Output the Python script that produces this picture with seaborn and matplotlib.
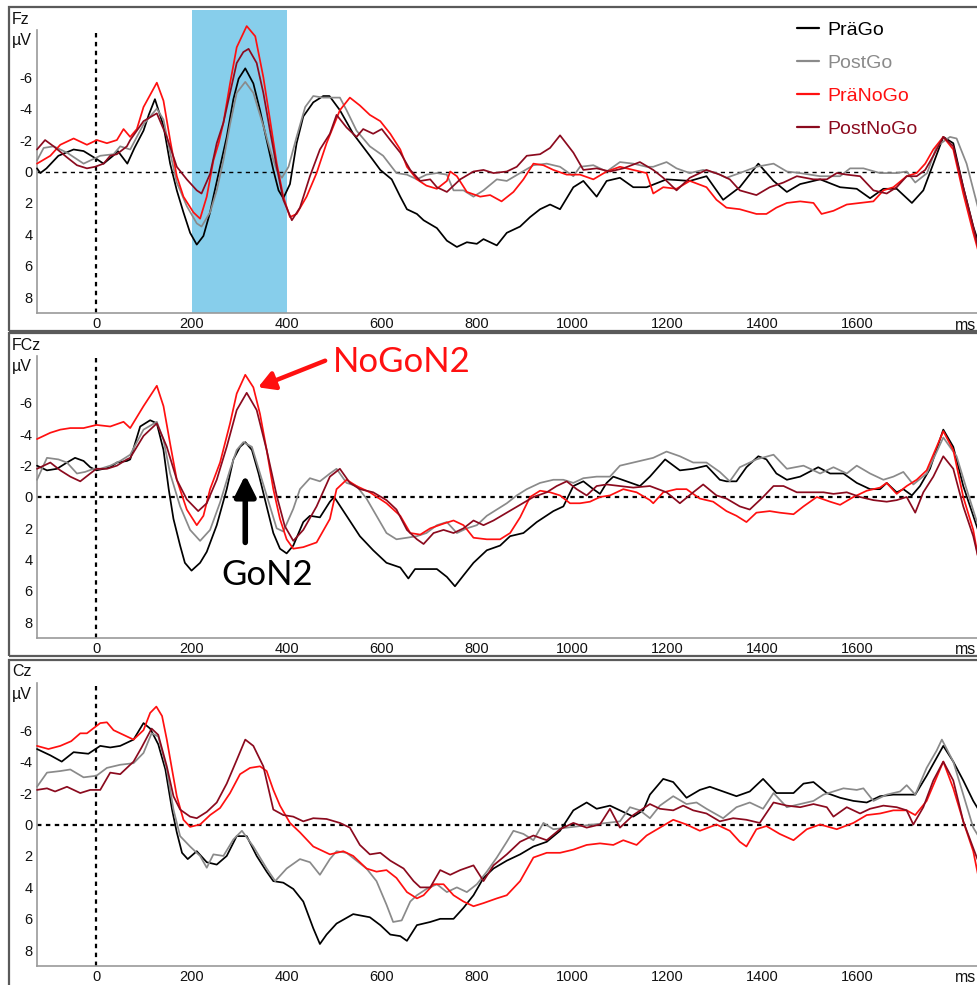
import matplotlib
matplotlib.use("Agg")
import matplotlib.pyplot as plt
import pandas as pd
import seaborn as sns
from matplotlib.patches import Rectangle
from matplotlib.lines import Line2D
from matplotlib.ticker import FixedLocator

conditions = ["PräGo", "PostGo", "PräNoGo", "PostNoGo"]
colors = ["#000000", "#8a8a8a", "#ff1010", "#8b0a1e"]
xticks = [0, 200, 400, 600, 800, 1000, 1200, 1400, 1600]
yticks = [-6, -4, -2, 0, 2, 4, 6, 8]

# ---- Fz (time ms, amplitude µV) ----
fz_prago = [(-125,-0.2),(-118,0.1),(-105,-0.2),(-80,-1.0),(-48,-1.4),(-27,-1.3),(0,-0.8),(15,-0.5),(35,-1.0),(45,-1.3),(65,-0.5),(80,-1.5),(99,-2.6),(110,-3.6),(123,-4.6),(141,-2.9),(155,-0.5),(169,1.2),(183,2.6),(197,3.9),(211,4.65),(225,4.1),(239,2.6),(246,1.6),(260,-0.3),(274,-2.2),(288,-4.6),(299,-5.9),(313,-6.56),(330,-5.6),(344,-3.9),(358,-2.0),(372,-0.1),(383,1.2),(393,1.7),(407,0.8),(421,-1.8),(435,-3.5),(456,-4.4),(477,-4.8),(490,-4.8),(512,-3.9),(540,-2.4),(575,-1.0),(597,-0.1),(621,0.5),(639,1.6),(653,2.4),(674,2.7),(688,3.1),(716,3.6),(737,4.4),(758,4.8),(779,4.5),(800,4.6),(814,4.3),(842,4.7),(863,3.9),(891,3.5),(912,2.9),(933,2.4),(954,2.1),(975,2.4),(1003,1.0),(1024,0.6),(1052,1.6),(1073,0.6),(1101,0.4),(1129,1.0),(1157,1.0),(1199,0.5),(1248,0.6),(1283,0.3),(1318,1.8),(1353,1.0),(1392,-0.5),(1424,0.6),(1452,1.3),(1480,0.8),(1522,0.5),(1564,1.0),(1599,1.1),(1627,1.7),(1655,1.1),(1683,1.1),(1715,2.0),(1739,1.2),(1760,-0.5),(1781,-2.2),(1802,-1.8),(1823,1.0),(1844,3.5),(1856,4.6)]
fz_postgo = [(-125,-0.7),(-111,-1.5),(-90,-1.6),(-62,-1.2),(-27,-0.5),(8,-1.0),(36,-1.1),(50,-1.6),(71,-1.4),(78,-1.8),(99,-3.0),(127,-4.0),(141,-3.3),(155,-1.2),(169,0.7),(190,2.2),(211,3.3),(221,3.5),(239,2.6),(253,1.2),(267,-0.7),(281,-3.0),(295,-5.0),(313,-5.7),(330,-5.0),(351,-2.9),(365,-1.4),(379,-0.1),(390,0.4),(404,-0.3),(421,-2.2),(439,-4.1),(456,-4.8),(477,-4.7),(491,-4.7),(512,-4.7),(526,-3.9),(547,-2.6),(575,-1.6),(603,-1.0),(631,0.1),(653,0.2),(674,0.5),(694,0.2),(716,0.1),(737,0.2),(751,1.2),(772,1.2),(793,1.6),(814,1.2),(842,0.5),(863,0.6),(891,0.1),(919,-0.4),(947,-0.5),(975,-0.3),(1003,0.3),(1017,-0.3),(1045,-0.4),(1073,0.0),(1101,-0.6),(1129,-0.5),(1157,-0.3),(1171,-0.3),(1199,-0.6),(1220,-0.2),(1248,0.1),(1276,-0.1),(1304,0.1),(1325,0.4),(1353,0.1),(1388,-0.3),(1424,-0.5),(1452,0.0),(1480,0.1),(1522,0.3),(1564,0.3),(1585,-0.2),(1613,-0.2),(1648,0.1),(1683,0.1),(1704,0.0),(1722,0.7),(1747,0.1),(1767,-1.6),(1795,-2.2),(1809,-2.1),(1830,-0.5),(1854,2.3)]
fz_pranogo = [(-125,-0.5),(-97,-1.0),(-76,-1.7),(-48,-2.1),(-20,-1.7),(1,-2.0),(22,-1.8),(43,-2.0),(57,-2.7),(71,-2.2),(85,-2.7),(99,-4.1),(127,-5.65),(141,-4.5),(155,-2.0),(169,0.3),(183,1.6),(204,2.6),(218,3.0),(232,1.6),(246,-0.7),(257,-1.8),(267,-3.1),(281,-5.6),(295,-7.9),(316,-9.25),(334,-8.6),(351,-6.0),(365,-3.3),(379,-0.55),(393,1.6),(407,2.9),(421,2.7),(442,1.6),(463,0.1),(484,-1.8),(512,-3.9),(533,-4.7),(554,-4.2),(575,-3.6),(597,-3.2),(618,-2.4),(639,-1.4),(653,-0.3),(674,0.5),(694,0.9),(716,1.1),(737,0.6),(744,0.0),(758,0.3),(779,1.3),(807,1.6),(828,1.5),(852,1.9),(877,1.3),(898,0.5),(919,-0.5),(940,-0.4),(961,-0.1),(989,0.2),(1017,0.2),(1045,0.5),(1073,0.0),(1101,-0.3),(1129,-0.1),(1157,0.1),(1171,1.4),(1192,1.0),(1220,1.1),(1248,0.6),(1283,1.0),(1304,1.8),(1325,2.3),(1353,2.4),(1388,2.7),(1409,2.7),(1430,2.3),(1452,2.0),(1480,1.9),(1508,2.0),(1525,2.7),(1550,2.5),(1578,2.1),(1606,2.0),(1634,1.9),(1655,1.2),(1676,1.0),(1704,0.3),(1725,0.1),(1743,-0.5),(1760,-1.4),(1781,-2.2),(1802,-1.4),(1823,1.4),(1844,3.9),(1854,5.0)]
fz_postnogo = [(-125,-1.4),(-108,-2.0),(-90,-1.6),(-62,-0.9),(-41,-0.4),(-20,-0.2),(-3,-0.3),(15,-0.5),(29,-1.0),(43,-1.1),(64,-1.6),(71,-2.0),(99,-3.2),(127,-3.7),(148,-2.2),(169,-0.3),(190,0.5),(211,1.2),(221,1.4),(239,0.15),(253,-1.8),(267,-3.1),(281,-5.0),(295,-6.9),(309,-7.6),(320,-7.8),(337,-6.9),(351,-5.0),(365,-2.6),(379,-0.3),(393,1.8),(411,3.1),(428,2.3),(449,0.3),(470,-1.4),(491,-2.4),(505,-3.6),(526,-2.8),(547,-2.2),(561,-2.7),(582,-2.4),(600,-2.7),(618,-2.0),(639,-1.2),(660,-0.1),(681,0.6),(702,0.5),(716,1.0),(737,1.3),(765,0.5),(793,0.0),(814,-0.1),(835,0.1),(863,0.0),(884,-0.3),(905,-1.0),(933,-1.1),(954,-1.5),(975,-2.3),(1003,-1.2),(1024,-0.1),(1052,-0.2),(1080,0.0),(1108,-0.2),(1143,-0.6),(1171,-0.1),(1192,0.4),(1220,1.2),(1248,0.4),(1283,-0.1),(1311,0.2),(1332,0.5),(1353,1.2),(1388,1.5),(1416,1.0),(1445,0.7),(1473,0.3),(1508,0.5),(1536,0.5),(1557,0.1),(1578,0.2),(1606,0.3),(1634,1.2),(1662,1.4),(1683,1.0),(1704,0.3),(1725,0.3),(1743,-0.1),(1760,-1.0),(1781,-2.2),(1802,-1.6),(1823,1.0),(1844,3.5),(1854,4.8)]

# ---- FCz ----
fcz_prago = [(-125,-2.0),(-104,-1.7),(-83,-1.8),(-62,-2.2),(-45,-2.5),(-27,-2.3),(-13,-1.9),(0,-1.7),(15,-1.8),(29,-1.9),(43,-2.2),(64,-2.3),(71,-2.4),(92,-4.5),(113,-4.9),(127,-4.7),(141,-3.0),(152,-0.5),(162,1.4),(176,3.1),(186,4.2),(200,4.7),(218,4.2),(232,3.5),(253,1.8),(274,-0.5),(288,-2.4),(302,-3.2),(313,-3.5),(327,-3.0),(341,-1.5),(358,0.6),(372,2.3),(386,3.3),(400,3.6),(414,3.1),(435,1.6),(449,1.2),(470,1.3),(491,0.3),(500,0.0),(526,1.2),(554,2.5),(582,3.4),(610,4.2),(639,4.5),(656,5.2),(670,4.6),(694,4.6),(716,4.6),(737,5.1),(754,5.7),(772,5.0),(793,4.2),(821,3.4),(849,3.1),(870,2.5),(898,2.3),(926,1.6),(961,0.9),(982,0.6),(1003,-0.7),(1024,-1.0),(1045,-0.5),(1059,-0.2),(1073,-0.9),(1087,-1.3),(1115,-1.0),(1143,-0.7),(1164,-1.3),(1196,-2.4),(1227,-1.7),(1255,-1.8),(1283,-2.0),(1311,-1.1),(1325,-1.0),(1346,-1.0),(1367,-1.9),(1392,-2.6),(1409,-2.4),(1430,-1.5),(1452,-1.1),(1480,-1.3),(1518,-1.9),(1543,-1.5),(1571,-1.5),(1599,-0.9),(1627,-0.5),(1648,-0.5),(1662,-0.9),(1683,-0.3),(1697,-0.5),(1715,-0.1),(1732,-0.7),(1753,-1.8),(1781,-4.3),(1802,-3.2),(1823,-0.7),(1844,1.2),(1854,2.1)]
fcz_postgo = [(-125,-1.1),(-104,-2.5),(-80,-2.4),(-62,-2.2),(-41,-1.5),(-24,-1.6),(-6,-1.8),(8,-1.8),(29,-2.0),(50,-2.3),(71,-2.7),(99,-4.3),(127,-4.8),(141,-3.65),(155,-1.5),(176,0.6),(197,2.1),(218,2.8),(239,2.1),(260,0.35),(281,-1.75),(295,-3.0),(309,-3.5),(327,-3.2),(344,-1.5),(365,0.6),(379,2.0),(393,2.2),(414,0.75),(428,-0.5),(449,-1.2),(470,-1.0),(491,-1.5),(505,-1.8),(526,-0.9),(547,-0.7),(568,0.1),(589,1.2),(610,2.3),(631,2.7),(653,2.6),(674,2.5),(694,2.3),(716,1.8),(737,1.6),(758,2.3),(779,2.0),(800,1.8),(821,1.2),(842,0.8),(863,0.4),(884,-0.1),(905,-0.5),(933,-0.9),(961,-1.1),(982,-1.1),(1003,-0.9),(1024,-1.2),(1052,-1.3),(1080,-1.3),(1101,-2.0),(1129,-2.2),(1157,-2.4),(1171,-2.5),(1199,-2.9),(1227,-2.6),(1255,-2.2),(1283,-2.2),(1311,-1.6),(1332,-1.0),(1353,-1.9),(1388,-2.4),(1424,-2.7),(1452,-1.8),(1487,-2.0),(1522,-1.5),(1550,-1.9),(1578,-1.5),(1599,-2.0),(1627,-1.5),(1655,-1.1),(1676,-1.3),(1697,-1.6),(1718,-0.8),(1746,-1.5),(1781,-3.8),(1809,-2.6),(1830,-0.5),(1854,1.8)]
fcz_pranogo = [(-125,-3.7),(-97,-4.1),(-76,-4.3),(-55,-4.4),(-27,-4.4),(0,-4.6),(29,-4.5),(57,-4.8),(71,-4.4),(99,-5.8),(127,-7.1),(141,-5.8),(155,-3.4),(169,-1.1),(190,0.8),(211,1.8),(225,1.2),(239,-0.5),(260,-2.2),(281,-4.7),(295,-6.6),(313,-7.8),(330,-7.0),(344,-5.3),(358,-3.0),(372,-0.5),(386,1.4),(400,2.7),(414,3.3),(435,3.2),(463,2.9),(491,1.4),(505,-0.5),(526,-1.1),(547,-0.7),(575,-0.3),(610,0.4),(639,1.2),(660,2.3),(681,2.4),(702,2.0),(730,1.7),(751,1.5),(772,1.8),(793,2.6),(821,2.7),(849,2.7),(870,2.3),(891,1.3),(912,0.0),(933,-0.4),(954,-0.3),(975,-0.1),(996,0.4),(1017,0.4),(1038,0.3),(1059,0.0),(1080,-0.1),(1108,-0.5),(1136,-0.3),(1164,0.2),(1171,0.4),(1192,-0.3),(1220,-0.5),(1241,-0.5),(1269,0.1),(1297,0.3),(1325,0.9),(1346,1.2),(1367,1.6),(1388,1.0),(1416,0.9),(1437,1.0),(1466,1.1),(1487,0.6),(1515,0.0),(1543,0.3),(1564,0.5),(1592,0.0),(1620,-0.4),(1648,-0.6),(1662,-0.9),(1683,-0.2),(1704,-0.7),(1725,-1.1),(1746,-1.7),(1781,-4.2),(1802,-3.0),(1823,0.0),(1844,2.1),(1854,3.8)]
fcz_postnogo = [(-125,-1.8),(-97,-2.2),(-76,-1.7),(-55,-1.3),(-34,-1.0),(-13,-1.5),(0,-1.8),(22,-1.8),(43,-2.0),(64,-2.4),(71,-2.5),(99,-3.9),(127,-4.7),(148,-3.2),(169,-1.1),(190,0.15),(214,0.9),(232,0.4),(253,-1.1),(274,-3.2),(295,-5.55),(316,-6.65),(337,-5.55),(358,-3.0),(379,-0.1),(396,1.85),(414,2.8),(435,2.1),(463,0.6),(491,-1.3),(512,-1.8),(533,-0.9),(554,-0.5),(582,-0.3),(610,0.2),(631,0.8),(653,2.1),(674,2.7),(688,3.0),(709,2.3),(730,2.1),(751,2.3),(772,2.0),(793,1.5),(814,1.8),(835,1.5),(863,1.0),(891,0.5),(919,0.0),(947,-0.3),(968,-0.7),(989,-1.0),(1010,-0.5),(1031,-0.1),(1052,-0.7),(1073,-0.8),(1101,-0.7),(1129,-0.6),(1164,-0.7),(1199,-0.3),(1227,0.4),(1255,-0.3),(1276,-0.8),(1304,-0.1),(1325,0.1),(1353,0.6),(1374,0.8),(1402,0.0),(1424,-0.7),(1445,-0.7),(1473,-0.3),(1501,-0.3),(1529,-0.3),(1550,-0.2),(1578,-0.3),(1606,0.0),(1634,0.2),(1662,0.3),(1683,0.2),(1704,0.0),(1722,1.0),(1739,-0.3),(1760,-1.3),(1781,-2.6),(1802,-1.8),(1823,0.6),(1844,2.5),(1854,3.8)]

# ---- Cz ----
cz_prago = [(-125,-4.8),(-97,-4.4),(-73,-4.0),(-48,-4.6),(-17,-4.5),(8,-5.0),(29,-4.9),(50,-5.0),(78,-5.4),(99,-6.45),(113,-6.1),(130,-5.1),(145,-3.5),(159,-0.95),(169,0.5),(180,1.8),(192,2.2),(211,1.7),(232,2.4),(253,2.55),(274,2.0),(295,0.74),(316,0.74),(337,2.0),(358,3.0),(372,3.6),(393,3.7),(414,4.1),(435,4.9),(456,6.6),(470,7.6),(484,7.0),(505,6.3),(540,5.7),(575,5.9),(597,6.4),(618,7.0),(639,7.1),(653,7.4),(674,6.4),(702,6.2),(723,6.0),(751,6.0),(772,5.3),(793,4.5),(814,3.4),(835,2.8),(863,2.3),(891,1.9),(919,1.4),(947,1.1),(975,0.4),(1003,-0.9),(1031,-1.4),(1052,-1.0),(1080,-1.2),(1101,-0.9),(1129,-0.5),(1150,-0.9),(1164,-1.9),(1192,-2.9),(1213,-2.7),(1241,-1.7),(1269,-2.2),(1290,-2.4),(1318,-2.1),(1346,-1.8),(1374,-2.1),(1402,-2.9),(1430,-2.0),(1466,-2.0),(1487,-2.6),(1508,-2.7),(1536,-2.0),(1564,-1.7),(1592,-1.5),(1620,-1.4),(1648,-1.8),(1676,-1.9),(1704,-1.9),(1722,-1.9),(1746,-3.1),(1781,-5.0),(1802,-4.0),(1823,-2.8),(1844,-1.5),(1854,-1.0)]
cz_postgo = [(-125,-2.4),(-104,-3.3),(-76,-3.4),(-55,-3.5),(-27,-3.0),(0,-3.1),(22,-3.6),(50,-3.8),(78,-3.9),(99,-4.55),(116,-5.8),(130,-5.6),(148,-3.5),(162,-0.95),(176,0.74),(197,1.4),(218,2.0),(232,2.75),(246,1.9),(267,2.0),(288,0.95),(306,0.4),(330,1.4),(358,2.8),(376,3.6),(400,2.8),(428,2.2),(449,2.4),(470,3.2),(491,2.2),(505,1.7),(526,1.8),(547,2.3),(568,2.8),(589,3.6),(610,5.1),(624,6.2),(642,6.1),(660,4.9),(674,4.5),(694,4.1),(716,3.8),(737,4.3),(758,4.0),(779,4.3),(800,3.8),(821,3.0),(842,2.1),(863,1.1),(877,0.4),(898,0.6),(919,1.0),(940,-0.1),(961,0.3),(989,0.2),(1017,0.1),(1045,0.0),(1073,-0.1),(1101,-0.2),(1122,-1.1),(1143,-0.9),(1164,-0.4),(1185,-1.2),(1213,-1.8),(1241,-1.3),(1262,-1.4),(1283,-1.0),(1318,-0.4),(1346,-1.1),(1374,-1.4),(1402,-1.0),(1424,-2.0),(1452,-1.1),(1480,-1.3),(1508,-1.5),(1529,-1.9),(1550,-2.1),(1571,-2.3),(1599,-2.2),(1613,-2.3),(1634,-1.5),(1662,-1.9),(1690,-2.1),(1704,-2.5),(1722,-1.9),(1746,-3.6),(1767,-4.7),(1778,-5.4),(1802,-4.0),(1823,-1.9),(1844,0.2),(1854,0.7)]
cz_pranogo = [(-125,-5.0),(-101,-4.8),(-76,-5.0),(-53,-5.3),(-34,-5.8),(-20,-5.8),(8,-6.45),(22,-6.5),(36,-6.0),(57,-5.7),(78,-5.4),(99,-6.0),(113,-7.1),(126,-7.5),(138,-6.9),(148,-5.4),(159,-3.5),(169,-1.8),(183,-0.3),(197,0.15),(218,0.0),(239,-0.6),(260,-1.05),(281,-2.0),(302,-3.2),(323,-3.6),(344,-3.7),(358,-3.4),(372,-2.2),(386,-1.2),(407,-0.1),(428,0.5),(456,1.4),(491,1.9),(519,1.7),(540,2.0),(568,2.8),(589,3.0),(610,2.9),(631,3.4),(653,4.3),(674,4.7),(688,4.5),(709,3.8),(730,3.8),(751,4.5),(772,4.9),(793,5.2),(814,5.0),(842,4.7),(863,4.5),(891,3.6),(919,2.1),(947,1.8),(975,1.8),(1003,1.6),(1031,1.3),(1059,1.2),(1087,1.3),(1108,1.0),(1136,1.3),(1157,0.7),(1185,0.2),(1213,-0.3),(1241,0.0),(1269,0.4),(1304,0.0),(1332,0.4),(1353,1.1),(1367,1.4),(1388,0.3),(1409,0.1),(1437,0.6),(1466,1.0),(1494,0.3),(1522,0.0),(1557,0.3),(1592,-0.1),(1620,-0.6),(1648,-0.7),(1676,-0.9),(1704,-0.9),(1722,-0.6),(1746,-1.5),(1767,-3.0),(1781,-4.0),(1802,-2.3),(1823,-0.2),(1844,1.7),(1854,3.2)]
cz_postnogo = [(-125,-2.2),(-104,-2.3),(-87,-2.1),(-62,-2.4),(-34,-2.0),(-13,-2.2),(8,-2.2),(29,-3.3),(50,-3.2),(78,-4.0),(95,-4.9),(116,-6.1),(130,-5.7),(148,-3.7),(162,-1.8),(176,-0.95),(197,-0.5),(211,-0.4),(232,-0.8),(253,-1.4),(274,-2.6),(295,-4.1),(313,-5.4),(330,-5.0),(351,-3.7),(372,-0.95),(393,-0.6),(414,-0.5),(435,-0.2),(456,-0.4),(484,-0.35),(512,-0.1),(533,0.2),(554,1.3),(575,1.9),(597,1.8),(618,2.3),(646,2.8),(667,3.6),(681,4.0),(702,4.0),(723,2.9),(744,3.2),(765,2.9),(793,2.6),(814,3.6),(835,2.6),(863,1.9),(891,1.1),(919,0.7),(947,1.0),(975,0.3),(1003,-0.1),(1031,0.2),(1059,0.0),(1080,-1.0),(1101,0.2),(1129,-0.6),(1164,-1.3),(1185,-1.0),(1213,-0.9),(1234,-1.2),(1255,-0.9),(1283,-0.7),(1311,-0.2),(1339,-0.4),(1367,-0.3),(1395,-0.1),(1424,-1.4),(1452,-1.2),(1480,-1.1),(1508,-1.3),(1536,-1.1),(1550,-0.5),(1578,-1.1),(1606,-0.7),(1627,-1.0),(1655,-1.2),(1683,-1.1),(1704,-0.9),(1718,0.0),(1739,-1.1),(1760,-2.8),(1781,-4.0),(1802,-2.8),(1823,-0.2),(1844,1.5),(1854,2.3)]

panels = [
    ("Fz", [fz_prago, fz_postgo, fz_pranogo, fz_postnogo]),
    ("FCz", [fcz_prago, fcz_postgo, fcz_pranogo, fcz_postnogo]),
    ("Cz", [cz_prago, cz_postgo, cz_pranogo, cz_postnogo]),
]

sns.set_style("white")
plt.rcParams["font.family"] = ["Liberation Sans", "DejaVu Sans"]
plt.rcParams["axes.unicode_minus"] = False

W, H = 978, 985
fig = plt.figure(figsize=(W / 100, H / 100), dpi=100)


def fx(px):
    return px / W


def fy(py):
    return 1 - py / H


# panel boxes (top px, bottom px) and axes boxes (top px, bottom px)
frames = [(7, 331), (333, 656), (660, 992)]
axboxes = [(30, 313), (356, 638), (683, 966)]
AX_LEFT = 37
spine_col = "#9a9a9a"

for (ftop, fbot) in frames:
    fig.add_artist(Rectangle((fx(9), fy(fbot)), fx(995) - fx(9), fy(ftop) - fy(fbot),
                             transform=fig.transFigure, fill=False,
                             edgecolor="#5a5a5a", lw=1.6, clip_on=False))

axes = []
for i, ((name, series), (atop, abot), (ftop, fbot)) in enumerate(zip(panels, axboxes, frames)):
    ax = fig.add_axes([fx(AX_LEFT), fy(abot), 1 - fx(AX_LEFT), (abot - atop) / H])
    axes.append(ax)
    ax.set_facecolor("none")
    rows = []
    for cond, pts in zip(conditions, series):
        for t, v in pts:
            rows.append({"t": t, "v": v, "cond": cond})
    df = pd.DataFrame(rows)

    if i == 0:
        ax.axvspan(200, 400, ymin=0, ymax=(abot - 10) / (abot - atop),
                   color="#87ceeb", lw=0, zorder=0.5, clip_on=False)

    ax.axhline(0, color="black", lw=1.0 if i == 0 else 1.6,
               ls=(0, (3, 3)) if i == 0 else (0, (2, 2)), zorder=1)
    ax.axvline(0, color="black", lw=1.6, ls=(0, (2, 2)), zorder=1)

    sns.lineplot(data=df, x="t", y="v", hue="cond", hue_order=conditions,
                 palette=colors, estimator=None, sort=False, lw=1.25,
                 legend=False, ax=ax, zorder=3)
    for ln in ax.lines[2:]:
        ln.set_clip_on(False)
        ln.set_solid_joinstyle("round")
        ln.set_solid_capstyle("round")

    ax.set_xlim(-125, 1854)
    ax.set_ylim(9, -9)
    ax.set_xlabel("")
    ax.set_ylabel("")
    for s in ["top", "right"]:
        ax.spines[s].set_visible(False)
    for s in ["left", "bottom"]:
        ax.spines[s].set_color(spine_col)
        ax.spines[s].set_linewidth(1.2)
    ax.set_xticks(xticks + [1800])
    ax.set_xticklabels([str(x) for x in xticks] + [""])
    ax.xaxis.set_minor_locator(FixedLocator([-100, 100, 300, 500, 700, 900, 1100, 1300, 1500, 1700]))
    ax.set_yticks([-8] + yticks)
    ax.set_yticklabels([""] + [str(y) for y in yticks])
    ax.yaxis.set_minor_locator(FixedLocator([-9, -7, -5, -3, -1, 1, 3, 5, 7]))
    ax.tick_params(axis="both", which="major", direction="in", length=4, width=1,
                   color=spine_col, labelsize=10.5, labelcolor="#111111", pad=4)
    ax.tick_params(axis="both", which="minor", direction="in", length=2.5, width=0.8,
                   color=spine_col)
    ax.tick_params(axis="x", which="major", pad=3)
    ax.tick_params(axis="y", which="major", pad=3)
    ax.grid(False)

    fig.text(fx(12), fy(ftop + 12), name, fontsize=11.5, ha="left", va="center", color="#111111")
    fig.text(fx(12), fy(ftop + 34), "µV", fontsize=11.5, ha="left", va="center", color="#111111")
    fig.text(fx(955), fy(abot + 12), "ms", fontsize=11.5, ha="left", va="center", color="#111111")

# legend in the Fz panel
handles = [Line2D([0], [0], color=c, lw=1.6) for c in colors]
leg = axes[0].legend(handles, conditions, loc="upper left",
                     bbox_to_anchor=(fx(797), fy(21)), bbox_transform=fig.transFigure,
                     frameon=False, fontsize=14, handlelength=1.15, handletextpad=0.4,
                     labelspacing=0.8, borderpad=0, borderaxespad=0)
for txt, c in zip(leg.get_texts(), colors):
    txt.set_color(c)

# N2 annotations in the FCz panel
ax2 = axes[1]
ax2.annotate("", xy=(340, -7.0), xytext=(481, -8.7),
             arrowprops=dict(arrowstyle="-|>,head_length=0.7,head_width=0.4",
                             lw=3.2, color="#ff1010", shrinkA=0, shrinkB=0,
                             mutation_scale=14), annotation_clip=False)
ax2.text(498, -8.6, "NoGoN2", color="#ff1010", fontsize=25, ha="left", va="center",
         family=["Lato", "DejaVu Sans"], clip_on=False)
ax2.annotate("", xy=(313, -1.4), xytext=(313, 2.9),
             arrowprops=dict(arrowstyle="-|>,head_length=0.9,head_width=0.45",
                             lw=4, color="black", shrinkA=0, shrinkB=0,
                             mutation_scale=14))
ax2.text(359, 5.0, "GoN2", color="black", fontsize=25, ha="center", va="center",
         family=["Lato", "DejaVu Sans"])

fig.savefig("out.png", dpi=100)
